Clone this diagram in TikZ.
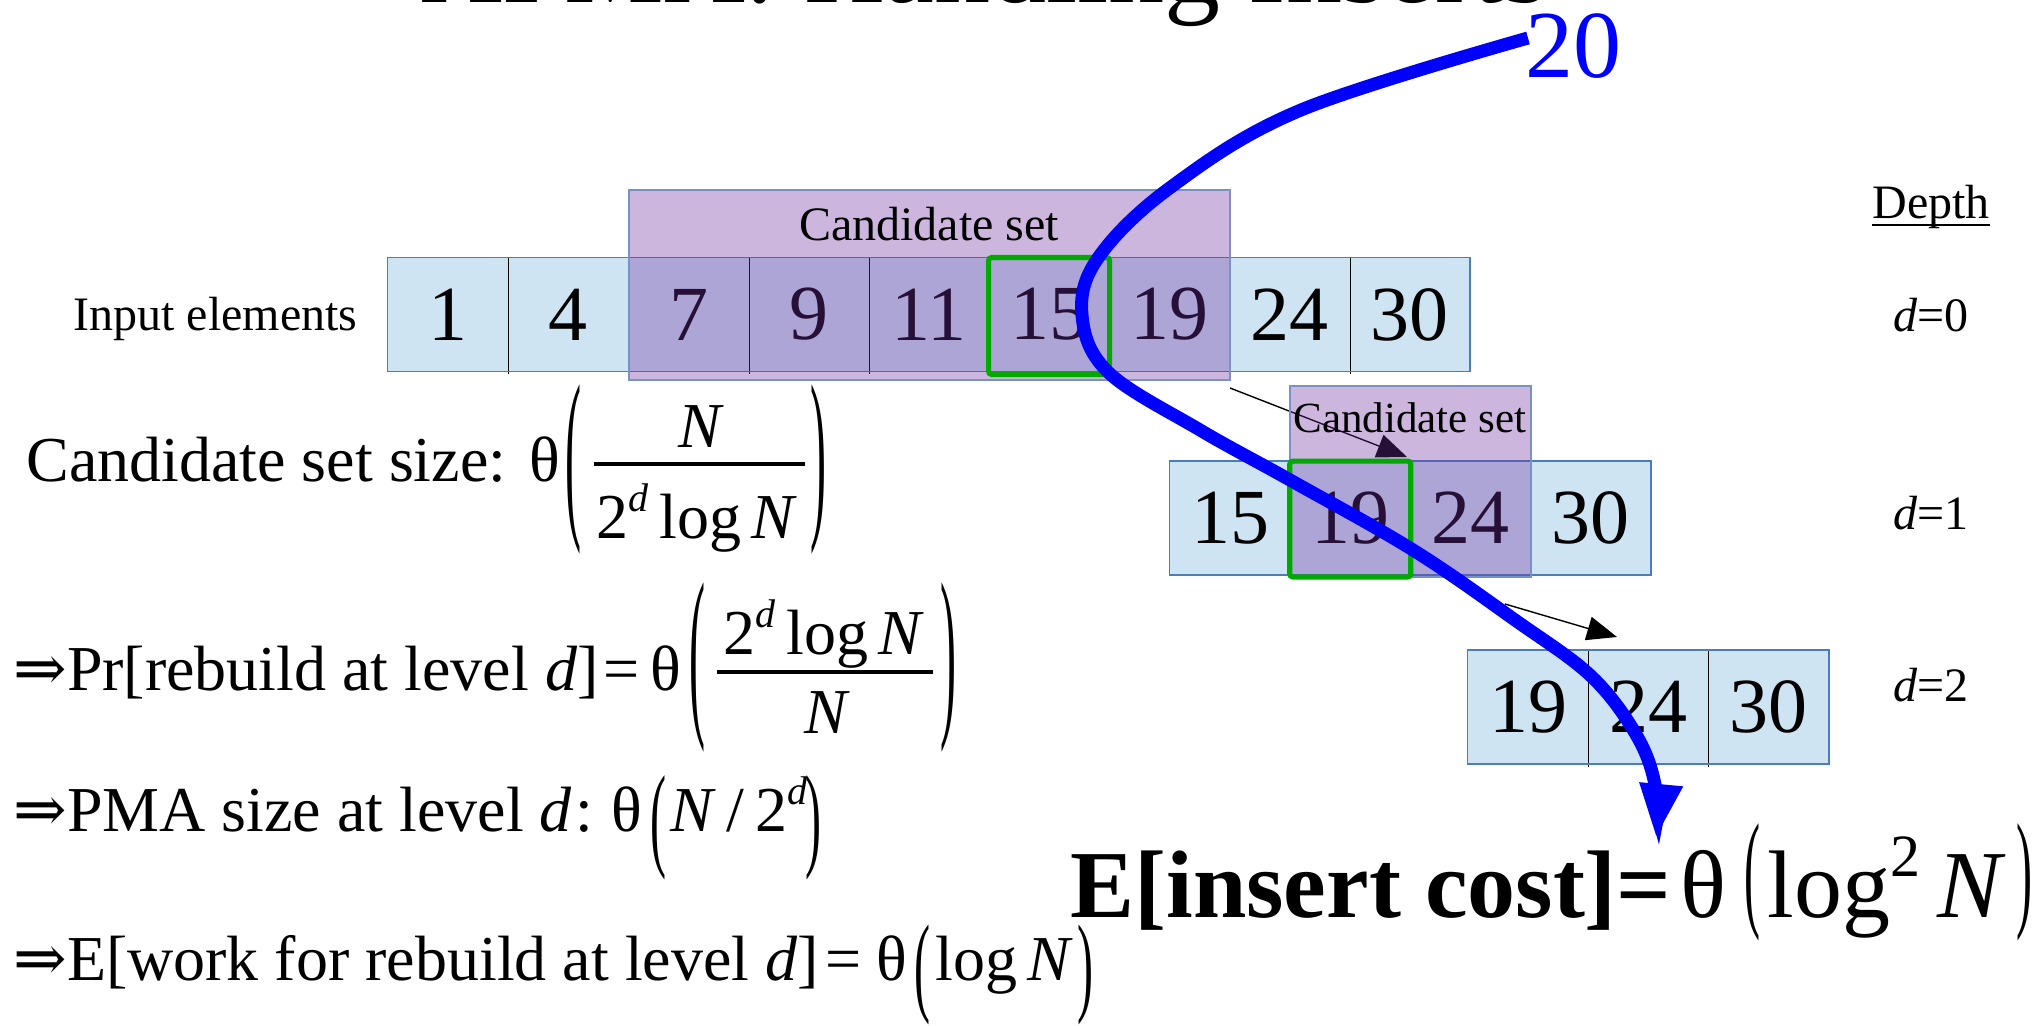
\documentclass[tikz,border=0pt]{standalone}
\usepackage{fontspec}
\usepackage{graphicx}
\setmainfont{Liberation Serif}
\newfontfamily\symfnt{DejaVu Serif}
\usetikzlibrary{arrows.meta,calc}
\definecolor{cellfill}{RGB}{207,228,242}
\definecolor{cellline}{RGB}{74,126,187}
\definecolor{candfill}{RGB}{112,48,160}
\definecolor{candline}{RGB}{120,146,200}
\definecolor{grn}{RGB}{0,170,0}
\newcommand{\tallpar}[2]{{\fontsize{24}{24}\selectfont\scalebox{1}[#1]{#2}}}
\newcommand{\dsup}[1]{\raisebox{0.42em}{\fontsize{20}{20}\selectfont #1}}
\tikzset{
  cell/.style={fill=cellfill, inner sep=0pt, minimum width=60.1pt, minimum height=56.5pt, font=\fontsize{39}{39}\selectfont},
  candbox/.style={fill=candfill, fill opacity=0.35, draw=candline, draw opacity=1, line width=0.8pt, inner sep=0pt},
  lbl/.style={font=\fontsize{24}{24}\selectfont, inner sep=0pt},
  frm/.style={font=\fontsize{32}{32}\selectfont, inner sep=0pt},
  big/.style={font=\fontsize{48}{48}\selectfont, inner sep=0pt},
  par/.style={inner sep=0pt},
  thinarrow/.style={draw=black, line width=0.7pt, -{Triangle[length=15pt,width=12pt]}},
  greenbox/.style={draw=grn, line width=2.6pt, rounded corners=1.5pt},
  fracbar/.style={line width=2pt},
}
\begin{document}
\begin{tikzpicture}[x=0.5pt,y=-0.5pt]
\clip (0,0) rectangle (2043,1026);
\fill[white] (0,0) rectangle (2043,1026);

% title (cut off at top)
\node[font=\fontsize{56}{56}\selectfont, inner sep=0pt, anchor=base west] (title) at (421,3) {APMA: Handling Inserts};

% row 0
\foreach \v [count=\i] in {1,4,7,9,11,15,19,24,30} {
  \node[cell] (r0c\i) at ({388+(\i-0.5)*120.2},314.5) {\v};
}
\foreach \i in {1,...,8} \draw[black, line width=0.5pt] (r0c\i.north east) -- ($(r0c\i.south east)+(0,3)$);
\draw[cellline, line width=0.8pt] (r0c1.north west) rectangle (r0c9.south east);

% row 1
\foreach \v [count=\i] in {15,19,24,30} {
  \node[cell] (r1c\i) at ({1170+(\i-0.5)*120.2},518) {\v};
}
\foreach \i in {1,...,3} \draw[black, line width=0.5pt] (r1c\i.north east) -- ($(r1c\i.south east)+(0,3)$);
\draw[cellline, line width=0.8pt] (r1c1.north west) rectangle (r1c4.south east);

% row 2
\foreach \v [count=\i] in {19,24,30} {
  \node[cell] (r2c\i) at ({1468+(\i-0.5)*120.2},707) {\v};
}
\foreach \i in {1,...,2} \draw[black, line width=0.5pt] (r2c\i.north east) -- ($(r2c\i.south east)+(0,3)$);
\draw[cellline, line width=0.8pt] (r2c1.north west) rectangle (r2c3.south east);

% thin arrows
\coordinate (a1s) at (1230,388);
\coordinate (a1e) at (1407,457);
\coordinate (a2s) at (1505,604);
\coordinate (a2e) at (1617,637);
\draw[thinarrow] (a1s) -- (a1e);
\draw[thinarrow] (a2s) -- (a2e);

% candidate boxes
\node[candbox, minimum width=300.5pt, minimum height=95pt] (cand0) at (929.5,285) {};
\node[lbl] (cl0) at (929,224) {Candidate set};
\node[candbox, minimum width=120.5pt, minimum height=95.5pt] (cand1) at (1410.5,481.5) {};
\node[font=\fontsize{21.5}{21.5}\selectfont, inner sep=0pt] (cl1) at (1410,418) {Candidate set};

% green boxes
\draw[greenbox] (r0c6.north west) rectangle ($(r0c6.south east)+(0,3)$);
\draw[greenbox] (r1c2.north west) rectangle ($(r1c2.south east)+(0,2)$);

% labels
\node[lbl, anchor=base west] (inp) at (73,331) {Input elements};
\node[lbl, anchor=base] (dep) at (1931,219) {Depth};
\draw[line width=0.7pt] ($(dep.base west)+(0,6)$) -- ($(dep.base east)+(0,6)$);
\node[lbl, anchor=base] (d0) at (1931,332) {\textit{d}=0};
\node[lbl, anchor=base] (d1) at (1931,529) {\textit{d}=1};
\node[lbl, anchor=base] (d2) at (1931,701) {\textit{d}=2};

% formula 1
\node[frm, anchor=base west] (f1) at (26,481) {Candidate set size:};
\node[frm, anchor=base] (f1t) at (545,481) {θ};
\node[par] (f1l) at (573,469) {\tallpar{3.9}{(}};
\node[frm, anchor=base] (f1n) at (700,447) {\itshape N};
\draw[fracbar] (594,464) -- (805,464);
\node[frm, anchor=base] (f1d) at (697,538) {2\dsup{\itshape d}\,log\,\textit{N}};
\node[par] (f1r) at (818,469) {\tallpar{3.9}{)}};

% formula 2
\node[frm, anchor=base west] (f2) at (13,690) {{\symfnt ⇒}Pr[rebuild at level \textit{d}]\hspace{0.08em}=};
\node[frm, anchor=base] (f2t) at (666,690) {θ};
\node[par] (f2l) at (697,667) {\tallpar{3.9}{(}};
\node[frm, anchor=base] (f2n) at (824,654) {2\dsup{\itshape d}\,log\,\textit{N}};
\draw[fracbar] (717,672) -- (933,672);
\node[frm, anchor=base] (f2d) at (826,733) {\itshape N};
\node[par] (f2r) at (948,667) {\tallpar{3.9}{)}};

% formula 3
\node[frm, anchor=base west] (f3) at (13,831) {{\symfnt ⇒}PMA size at level \textit{d}\hspace{0.05em}:};
\node[frm, anchor=base] (f3t) at (627,831) {θ};
\node[par] (f3l) at (658,828) {\tallpar{2.4}{(}};
\node[frm, anchor=base west] (f3a) at (670,831) {\textit{N}\,/\,2\dsup{\itshape d}};
\node[par] (f3r) at (813,828) {\tallpar{2.4}{)}};

% formula 4
\node[frm, anchor=base west] (f4) at (13,980) {{\symfnt ⇒}E[work for rebuild at level \textit{d}]\hspace{0.1em}=};
\node[frm, anchor=base] (f4t) at (892,980) {θ};
\node[par] (f4l) at (922,975) {\tallpar{2.3}{(}};
\node[frm, anchor=base west] (f4a) at (935,980) {log\,\textit{N}};
\node[par] (f4r) at (1085,975) {\tallpar{2.3}{)}};

% E[insert cost]
\node[big, anchor=base west] (ei) at (1070,917) {\bfseries E[insert cost]=};
\node[big, anchor=base] (eit) at (1703,917) {θ};
\node[par] (eil) at (1752,882) {\tallpar{2.7}{(}};
\node[big, anchor=base west] (eia) at (1767,917) {log\raisebox{0.42em}{\fontsize{30}{30}\selectfont 2}\hspace{0.18em}\textit{N}};
\node[par] (eir) at (2024,882) {\tallpar{2.7}{)}};

% blue "20" and curve
\node[big, text=blue, anchor=base west] (n20) at (1525,78) {20};
\draw[blue, line width=6.5pt, -{Triangle[length=27pt,width=20pt]}]
  plot[smooth, tension=0.6] coordinates {(1528,38) (1301,110) (1171,187) (1098,258) (1082,315) (1108,372) (1200,430) (1290,480) (1413,550) (1515,620) (1592,677) (1638,738) (1656,790) (1656,838)};
\end{tikzpicture}
\end{document}
